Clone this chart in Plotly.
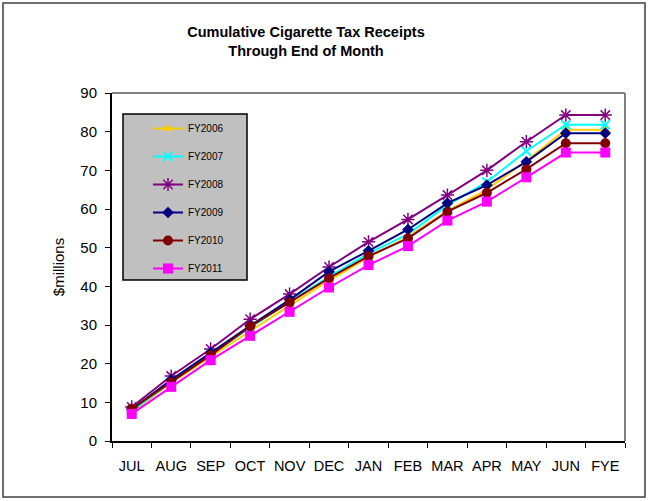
import plotly.graph_objects as go

months = ["JUL", "AUG", "SEP", "OCT", "NOV", "DEC", "JAN", "FEB", "MAR", "APR", "MAY", "JUN", "FYE"]

fy2006 = [7.5, 15.0, 21.8, 28.5, 35.0, 41.5, 47.5, 52.8, 59.5, 65.0, 72.5, 80.5, 80.5]
fy2007 = [7.8, 15.3, 22.3, 29.3, 36.0, 42.5, 48.5, 53.5, 61.0, 67.0, 75.0, 81.8, 81.8]
fy2008 = [8.8, 16.8, 23.8, 31.5, 38.0, 45.0, 51.5, 57.3, 63.6, 70.0, 77.4, 84.3, 84.3]
fy2009 = [8.2, 15.8, 22.8, 29.8, 36.5, 43.8, 49.2, 54.7, 61.5, 66.2, 72.2, 79.6, 79.6]
fy2010 = [8.3, 15.2, 22.2, 29.6, 35.8, 42.1, 47.8, 52.4, 59.3, 64.2, 70.3, 77.0, 77.0]
fy2011 = [7.0, 14.0, 20.9, 27.2, 33.4, 39.7, 45.5, 50.4, 57.0, 61.9, 68.2, 74.6, 74.6]

series = [
    ("FY2006", fy2006, "#FFCC00", dict(symbol="triangle-up", size=9)),
    ("FY2007", fy2007, "#00FFFF", dict(symbol="x-thin-open", size=9, line=dict(width=2, color="#00FFFF"))),
    ("FY2008", fy2008, "#800080", dict(symbol="asterisk-open", size=11, line=dict(width=1.5, color="#800080"))),
    ("FY2009", fy2009, "#000080", dict(symbol="diamond", size=9)),
    ("FY2010", fy2010, "#800000", dict(symbol="circle", size=10)),
    ("FY2011", fy2011, "#FF00FF", dict(symbol="square", size=10)),
]

FONT = "Arial, Liberation Sans, sans-serif"

fig = go.Figure()
for i, (name, vals, color, mk) in enumerate(series):
    fig.add_trace(go.Scatter(
        x=months, y=vals, name=name, mode="lines+markers",
        line=dict(color=color, width=2),
        marker=dict(color=color, **mk),
        legendgroup=name,
    ))

W, H = 649, 501
L, R, T, B = 112, 24, 93, 60
pw, ph = W - L - R, H - T - B

def px_x(p):
    return (p - L) / pw

def px_y(p):
    return (H - B - p) / ph

shapes = [
    # outer chart border
    dict(type="rect", xref="paper", yref="paper", x0=px_x(3), x1=px_x(645), y0=px_y(497), y1=px_y(3),
         line=dict(color="#404040", width=1.5), fillcolor="rgba(0,0,0,0)", layer="below"),
    # plot area top/right border (grey)
    dict(type="line", xref="paper", yref="paper", x0=0, x1=1, y0=1, y1=1, line=dict(color="#808080", width=2)),
    dict(type="line", xref="paper", yref="paper", x0=1, x1=1, y0=0, y1=1, line=dict(color="#808080", width=2)),
    # legend box
    dict(type="rect", xref="paper", yref="paper", x0=px_x(123), x1=px_x(247), y0=px_y(280), y1=px_y(114),
         line=dict(color="#000000", width=1.5), fillcolor="#C0C0C0", layer="below"),
]

fig.update_layout(
    width=W, height=H,
    margin=dict(l=L, r=R, t=T, b=B),
    paper_bgcolor="white", plot_bgcolor="white",
    font=dict(family=FONT, color="black"),
    title=dict(
        text="<b>Cumulative Cigarette Tax Receipts<br>Through End of Month</b>",
        x=306 / W, xanchor="center",
        y=1 - 37 / H, yanchor="top",
        font=dict(size=14.5, family=FONT, color="black"),
    ),
    showlegend=True,
    legend=dict(
        x=px_x(148), y=px_y(114), xanchor="left", yanchor="top",
        bgcolor="rgba(0,0,0,0)", borderwidth=0,
        font=dict(size=10, family=FONT, color="black"),
        tracegroupgap=9,
    ),
    shapes=shapes,
)

fig.update_xaxes(
    type="category", range=[-0.5, 12.5],
    tickson="boundaries", ticks="outside", ticklen=5, tickcolor="black",
    showline=True, linecolor="black", linewidth=2,
    showgrid=False, zeroline=False,
    tickangle=0,
    ticklabelstandoff=11,
    tickfont=dict(size=14.5, family=FONT, color="black"),
)
fig.update_yaxes(
    range=[0, 90], dtick=10, tick0=0,
    ticks="outside", ticklen=5, tickcolor="black",
    showline=True, linecolor="black", linewidth=2,
    showgrid=False, zeroline=False,
    ticklabelstandoff=5,
    tickfont=dict(size=15, family=FONT, color="black"),
    title=dict(text="$millions", font=dict(size=15, family=FONT, color="black"), standoff=12),
)

fig.write_html("out.html", config={"displayModeBar": False},
               post_script="document.body.style.margin='0';document.body.style.padding='0';")
